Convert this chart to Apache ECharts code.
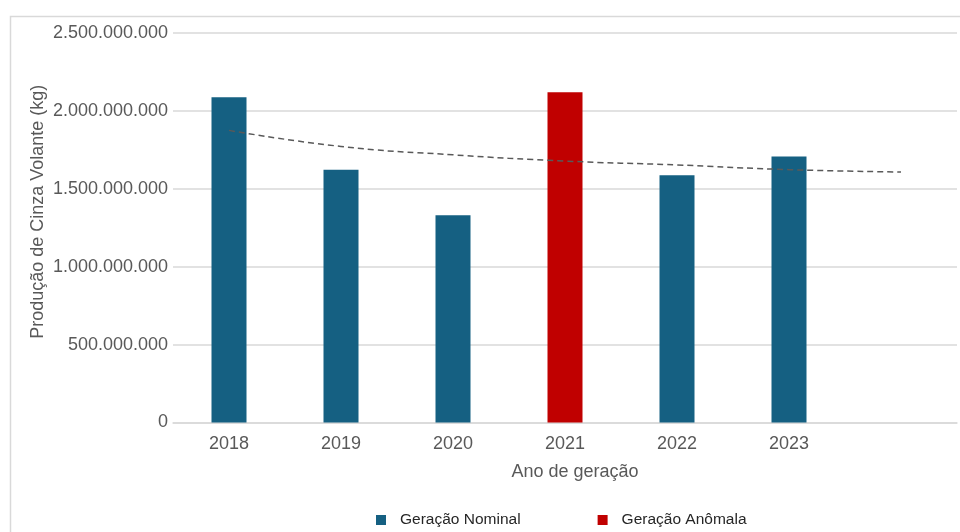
<!DOCTYPE html>
<html>
<head>
<meta charset="utf-8">
<script src="https://cdn.jsdelivr.net/npm/echarts@6/dist/echarts.min.js"></script>
<style>
  html, body { margin: 0; padding: 0; background: #fff; }
  #chart { width: 960px; height: 532px; }
</style>
</head>
<body>
<div id="chart"></div>
<script>
// Data
const years = ['2018', '2019', '2020', '2021', '2022', '2023', ''];
const nominal = [2087000000, 1623000000, 1330000000, null, 1587000000, 1708000000, null];
const anomalous = [null, null, null, 2119000000, null, null, null];
// Trendline as drawn in the original (read at each category centre)
const trend = [1875000000, 1772000000, 1718000000, 1678000000, 1653000000, 1623000000, 1608000000];

const yTicks = { min: 0, max: 2500000000, step: 500000000 };

const blue = '#156082';
const red = '#C00000';
const textGrey = '#595959';
const gridGrey = '#d9d9d9';
const font = 'Liberation Sans, Arial, sans-serif';

function formatThousands(v) {
    // Portuguese style: dots as thousands separators
    return String(v).replace(/\B(?=(\d{3})+(?!\d))/g, '.');
}

const chart = echarts.init(document.getElementById('chart'), null, {
    devicePixelRatio: 1,
    renderer: 'canvas'
});

const chartOptions = {
    animation: false,
    textStyle: { fontFamily: font },
    graphic: [{
        // outer chart frame
        type: 'rect',
        left: 8,
        top: 14,
        shape: { width: 970, height: 540 },
        style: { fill: 'none', stroke: gridGrey, lineWidth: 1.5 },
        silent: true
    }],
    grid: {
        left: 173,
        right: 3,
        top: 33,
        bottom: 109.5
    },
    legend: {
        data: ['Geração Nominal', 'Geração Anômala'],
        left: 371,
        top: 507,
        itemWidth: 10,
        itemHeight: 10,
        itemGap: 77,
        icon: 'rect',
        textStyle: {
            fontFamily: font,
            fontSize: 15.5,
            color: '#262626',
            padding: [0, 0, 0, 9]
        }
    },
    xAxis: {
        type: 'category',
        data: years,
        name: 'Ano de geração',
        nameLocation: 'middle',
        nameGap: 41,
        nameMoveOverlap: false,
        nameTextStyle: {
            fontFamily: font,
            fontSize: 18,
            color: textGrey,
            padding: [0, 0, 0, 20]
        },
        axisLine: { show: true, lineStyle: { color: gridGrey, width: 1.5 } },
        axisTick: { show: false },
        axisLabel: {
            fontFamily: font,
            fontSize: 18,
            color: textGrey,
            margin: 13
        }
    },
    yAxis: {
        type: 'value',
        min: yTicks.min,
        max: yTicks.max,
        interval: yTicks.step,
        name: 'Produção de Cinza Volante (kg)',
        nameLocation: 'middle',
        nameGap: 126,
        nameMoveOverlap: false,
        nameTextStyle: {
            fontFamily: font,
            fontSize: 18,
            color: textGrey,
            padding: [0, 0, 0, 32]
        },
        axisLine: { show: false },
        axisTick: { show: false },
        axisLabel: {
            fontFamily: font,
            fontSize: 18,
            color: textGrey,
            margin: 5,
            formatter: formatThousands
        },
        splitLine: {
            show: true,
            lineStyle: { color: gridGrey, width: 1.5 }
        }
    },
    series: [
        {
            name: 'Geração Nominal',
            type: 'bar',
            stack: 'total',
            barWidth: 35,
            data: nominal,
            itemStyle: { color: blue }
        },
        {
            name: 'Geração Anômala',
            type: 'bar',
            stack: 'total',
            barWidth: 35,
            data: anomalous,
            itemStyle: { color: red }
        },
        {
            name: 'Tendência',
            type: 'line',
            data: trend,
            smooth: true,
            symbol: 'none',
            lineStyle: {
                color: '#595959',
                width: 1.5,
                type: [6, 4]
            },
            z: 5
        }
    ]
};

chart.setOption(chartOptions, true);
</script>
</body>
</html>
